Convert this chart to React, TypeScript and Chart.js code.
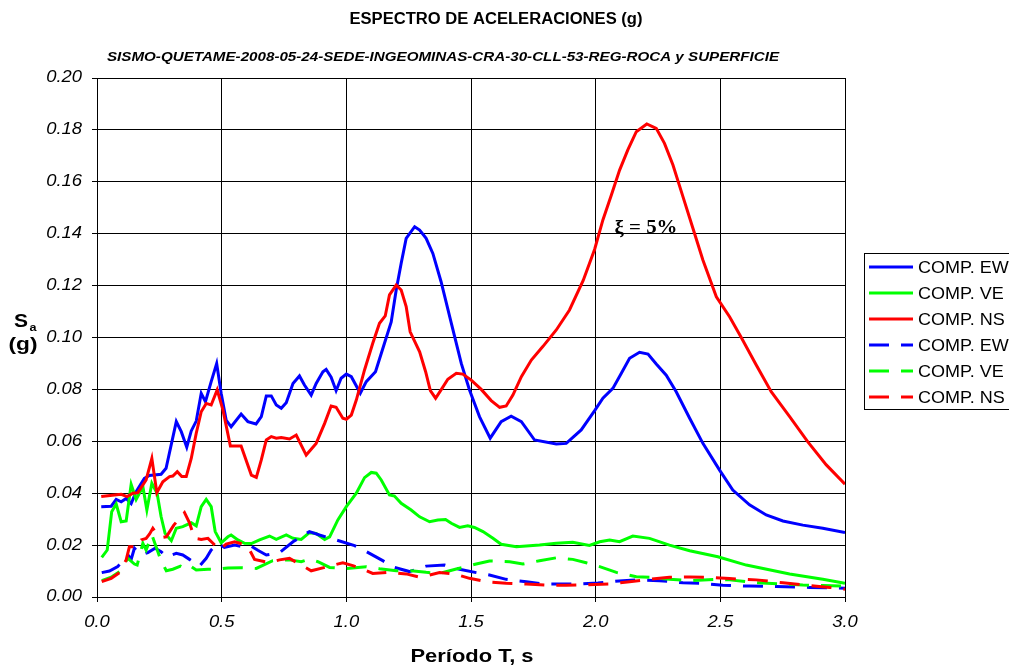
import React, { useEffect, useRef } from "react";
import { Chart, registerables } from "chart.js";

Chart.register(...registerables);

// ---------- DATA ----------
const ewSolidT = [0.017, 0.057, 0.077, 0.097, 0.117, 0.137, 0.157, 0.19, 0.21, 0.257, 0.277, 0.318, 0.338, 0.36, 0.378, 0.398, 0.418, 0.435, 0.458, 0.48, 0.498, 0.518, 0.538, 0.578, 0.605, 0.638, 0.659, 0.679, 0.699, 0.719, 0.739, 0.759, 0.786, 0.812, 0.832, 0.859, 0.879, 0.906, 0.919, 0.939, 0.959, 0.979, 1.0, 1.02, 1.056, 1.08, 1.117, 1.153, 1.18, 1.2, 1.22, 1.24, 1.274, 1.294, 1.32, 1.347, 1.38, 1.421, 1.461, 1.494, 1.534, 1.577, 1.621, 1.661, 1.702, 1.755, 1.842, 1.882, 1.942, 1.996, 2.029, 2.069, 2.103, 2.136, 2.176, 2.21, 2.243, 2.283, 2.323, 2.377, 2.43, 2.497, 2.55, 2.617, 2.684, 2.751, 2.831, 2.911, 3.0];
const ewSolidSa = [0.0348, 0.035, 0.0376, 0.0367, 0.038, 0.036, 0.0406, 0.0457, 0.0468, 0.0473, 0.0496, 0.0676, 0.0637, 0.0577, 0.064, 0.0678, 0.0785, 0.0753, 0.083, 0.09, 0.0785, 0.0682, 0.0656, 0.0705, 0.0676, 0.0667, 0.0695, 0.0775, 0.0775, 0.074, 0.0727, 0.0749, 0.0823, 0.0852, 0.0817, 0.0778, 0.0823, 0.0868, 0.0877, 0.0847, 0.0795, 0.0843, 0.0859, 0.0849, 0.0785, 0.083, 0.0868, 0.0978, 0.106, 0.1183, 0.1286, 0.1382, 0.1427, 0.1414, 0.1382, 0.1324, 0.1215, 0.1055, 0.09, 0.0798, 0.0695, 0.0612, 0.0676, 0.0697, 0.0676, 0.0605, 0.059, 0.0592, 0.0644, 0.0718, 0.0766, 0.0804, 0.0862, 0.092, 0.0943, 0.0936, 0.0898, 0.0855, 0.0791, 0.0689, 0.0592, 0.0489, 0.0412, 0.0355, 0.0316, 0.0293, 0.0277, 0.0265, 0.0248];

const veSolidT = [0.019, 0.041, 0.059, 0.077, 0.097, 0.117, 0.137, 0.157, 0.184, 0.2, 0.22, 0.241, 0.257, 0.273, 0.298, 0.318, 0.344, 0.378, 0.398, 0.418, 0.438, 0.458, 0.474, 0.498, 0.525, 0.538, 0.565, 0.592, 0.619, 0.652, 0.692, 0.719, 0.759, 0.786, 0.819, 0.852, 0.879, 0.913, 0.933, 0.966, 1.0, 1.04, 1.073, 1.1, 1.12, 1.14, 1.173, 1.193, 1.22, 1.26, 1.294, 1.334, 1.367, 1.398, 1.421, 1.454, 1.487, 1.514, 1.548, 1.588, 1.621, 1.682, 1.775, 1.842, 1.908, 1.975, 2.016, 2.056, 2.096, 2.149, 2.216, 2.296, 2.377, 2.49, 2.604, 2.778, 2.911, 3.0];
const veSolidSa = [0.0153, 0.0181, 0.0329, 0.0358, 0.029, 0.0293, 0.0434, 0.0376, 0.0425, 0.0335, 0.0438, 0.04, 0.031, 0.0245, 0.0217, 0.0265, 0.0271, 0.0286, 0.0274, 0.0348, 0.0376, 0.0348, 0.0252, 0.0209, 0.0232, 0.0239, 0.022, 0.0207, 0.0206, 0.022, 0.0235, 0.0222, 0.0239, 0.0226, 0.0222, 0.0248, 0.0245, 0.0222, 0.0232, 0.0297, 0.0348, 0.04, 0.046, 0.048, 0.0477, 0.0451, 0.0393, 0.0389, 0.0361, 0.0335, 0.0309, 0.029, 0.0297, 0.0299, 0.0284, 0.0268, 0.0274, 0.0268, 0.0252, 0.0226, 0.0203, 0.0194, 0.02, 0.0207, 0.0211, 0.0199, 0.0213, 0.022, 0.0213, 0.0235, 0.0226, 0.02, 0.0178, 0.0155, 0.0123, 0.0089, 0.0068, 0.0053];

const nsSolidT = [0.017, 0.07, 0.097, 0.121, 0.144, 0.164, 0.197, 0.22, 0.24, 0.264, 0.291, 0.304, 0.322, 0.34, 0.358, 0.378, 0.398, 0.418, 0.438, 0.458, 0.482, 0.505, 0.535, 0.578, 0.619, 0.639, 0.659, 0.679, 0.699, 0.719, 0.739, 0.772, 0.799, 0.839, 0.879, 0.913, 0.939, 0.959, 0.986, 1.0, 1.02, 1.04, 1.073, 1.106, 1.133, 1.156, 1.173, 1.2, 1.22, 1.24, 1.256, 1.294, 1.318, 1.337, 1.358, 1.38, 1.407, 1.441, 1.467, 1.501, 1.541, 1.581, 1.615, 1.641, 1.668, 1.702, 1.742, 1.788, 1.842, 1.895, 1.95, 1.996, 2.029, 2.063, 2.096, 2.129, 2.163, 2.205, 2.243, 2.276, 2.31, 2.35, 2.39, 2.43, 2.484, 2.537, 2.584, 2.644, 2.704, 2.778, 2.851, 2.925, 3.0];
const nsSolidSa = [0.0387, 0.0393, 0.0396, 0.0387, 0.04, 0.0402, 0.0451, 0.0534, 0.0402, 0.0444, 0.0464, 0.0466, 0.0483, 0.0464, 0.0464, 0.0534, 0.0631, 0.0714, 0.0746, 0.074, 0.0798, 0.0721, 0.0582, 0.0582, 0.047, 0.0461, 0.0528, 0.0605, 0.0618, 0.0612, 0.0615, 0.0609, 0.0624, 0.0547, 0.0592, 0.0669, 0.0736, 0.0731, 0.0689, 0.0685, 0.0701, 0.0759, 0.0875, 0.0978, 0.1055, 0.1083, 0.1164, 0.1202, 0.1183, 0.1119, 0.1022, 0.0945, 0.0868, 0.0795, 0.0766, 0.0798, 0.0839, 0.0862, 0.0859, 0.0836, 0.08, 0.0757, 0.0731, 0.0736, 0.0778, 0.0849, 0.0913, 0.0965, 0.1029, 0.1106, 0.122, 0.134, 0.1453, 0.1549, 0.1645, 0.1723, 0.1793, 0.1823, 0.1806, 0.1748, 0.1665, 0.1543, 0.1421, 0.1299, 0.1157, 0.108, 0.1, 0.0894, 0.0791, 0.0695, 0.0598, 0.0509, 0.0435];

const ewDashT = [0.019, 0.05, 0.083, 0.124, 0.137, 0.15, 0.177, 0.204, 0.233, 0.257, 0.278, 0.318, 0.344, 0.371, 0.411, 0.438, 0.458, 0.485, 0.511, 0.552, 0.585, 0.612, 0.645, 0.679, 0.732, 0.786, 0.852, 0.892, 0.959, 1.033, 1.08, 1.146, 1.193, 1.253, 1.32, 1.394, 1.454, 1.521, 1.574, 1.641, 1.722, 1.788, 1.855, 1.935, 2.009, 2.109, 2.176, 2.256, 2.35, 2.417, 2.51, 2.617, 2.724, 2.858, 3.0];
const ewDashSa = [0.0094, 0.01, 0.0117, 0.0162, 0.0145, 0.0188, 0.0162, 0.0171, 0.0188, 0.0175, 0.0155, 0.0168, 0.0162, 0.0145, 0.0119, 0.0149, 0.0181, 0.0207, 0.0191, 0.02, 0.0194, 0.02, 0.018, 0.0162, 0.0171, 0.0213, 0.0252, 0.0239, 0.022, 0.0198, 0.0175, 0.014, 0.0114, 0.0098, 0.0119, 0.0123, 0.0107, 0.0094, 0.0085, 0.0068, 0.0059, 0.005, 0.005, 0.005, 0.0054, 0.0063, 0.0066, 0.0063, 0.0055, 0.0053, 0.0045, 0.0042, 0.004, 0.0037, 0.0034];

const veDashT = [0.019, 0.057, 0.09, 0.124, 0.15, 0.161, 0.184, 0.197, 0.22, 0.237, 0.255, 0.278, 0.304, 0.335, 0.358, 0.378, 0.398, 0.445, 0.485, 0.525, 0.578, 0.639, 0.705, 0.772, 0.819, 0.852, 0.886, 0.933, 1.0, 1.08, 1.133, 1.2, 1.26, 1.32, 1.374, 1.441, 1.521, 1.574, 1.655, 1.708, 1.775, 1.842, 1.908, 1.962, 2.016, 2.083, 2.163, 2.216, 2.296, 2.377, 2.484, 2.537, 2.644, 2.751, 2.831, 2.911, 3.0];
const veDashSa = [0.0063, 0.0076, 0.0098, 0.0149, 0.0127, 0.0123, 0.0207, 0.0181, 0.0239, 0.0194, 0.0145, 0.0101, 0.0107, 0.0119, 0.0107, 0.0117, 0.0104, 0.0107, 0.0107, 0.0112, 0.0113, 0.011, 0.014, 0.0143, 0.0136, 0.0146, 0.0136, 0.0114, 0.011, 0.0117, 0.0109, 0.0101, 0.0101, 0.0095, 0.0091, 0.0108, 0.0127, 0.0139, 0.0136, 0.0127, 0.014, 0.0151, 0.0145, 0.0132, 0.0117, 0.0095, 0.0078, 0.0076, 0.0068, 0.0063, 0.0068, 0.0066, 0.0055, 0.005, 0.0046, 0.0044, 0.0042];

const nsDashT = [0.019, 0.057, 0.09, 0.117, 0.13, 0.164, 0.177, 0.197, 0.211, 0.224, 0.244, 0.264, 0.278, 0.308, 0.331, 0.351, 0.371, 0.391, 0.418, 0.445, 0.465, 0.491, 0.518, 0.552, 0.585, 0.605, 0.632, 0.692, 0.732, 0.772, 0.812, 0.859, 0.926, 0.986, 1.026, 1.066, 1.106, 1.173, 1.24, 1.287, 1.334, 1.374, 1.434, 1.494, 1.561, 1.641, 1.722, 1.802, 1.882, 1.962, 2.056, 2.136, 2.216, 2.296, 2.377, 2.457, 2.537, 2.644, 2.751, 2.845, 2.938, 3.0];
const nsDashSa = [0.0059, 0.0072, 0.0094, 0.0143, 0.0194, 0.0194, 0.022, 0.0226, 0.0243, 0.0265, 0.0239, 0.023, 0.0232, 0.0277, 0.0303, 0.0325, 0.0286, 0.0226, 0.0222, 0.0226, 0.0207, 0.0181, 0.0204, 0.0213, 0.0204, 0.0194, 0.0145, 0.0132, 0.0143, 0.0149, 0.0127, 0.0101, 0.0117, 0.0132, 0.0121, 0.0107, 0.0091, 0.0095, 0.0089, 0.0078, 0.0085, 0.0094, 0.0089, 0.0072, 0.0059, 0.0053, 0.005, 0.0046, 0.0045, 0.0047, 0.005, 0.0059, 0.0068, 0.0076, 0.0077, 0.0076, 0.0071, 0.0066, 0.0055, 0.0045, 0.0037, 0.003];

const seriesLabels = ["COMP. EW", "COMP. VE", "COMP. NS", "COMP. EW", "COMP. VE", "COMP. NS"];
const seriesColors = ["#0000FF", "#00FF00", "#FF0000", "#0000FF", "#00FF00", "#FF0000"];

const titleText = "ESPECTRO DE ACELERACIONES (g)";
const subtitleText = "SISMO-QUETAME-2008-05-24-SEDE-INGEOMINAS-CRA-30-CLL-53-REG-ROCA y SUPERFICIE";
const xAxisTitle = "Período T, s";
const dampingNote = "ξ = 5%";

const X_MIN = 0, X_MAX = 3, X_STEP = 0.5;
const Y_MIN = 0, Y_MAX = 0.2, Y_STEP = 0.02;

const SANS = "'Liberation Sans', Arial, sans-serif";
const SERIF = "'Liberation Serif', 'Times New Roman', serif";
const DASH = [20, 12];

function toPoints(t: number[], v: number[]) {
  return t.map((x, i) => ({ x, y: v[i] }));
}

function drawFitted(ctx: CanvasRenderingContext2D, text: string, font: string, x: number, y: number, width: number | null, align: CanvasTextAlign = "center", sx0 = 1) {
  ctx.save();
  ctx.font = font;
  const m = ctx.measureText(text).width;
  const sx = width ? width / m : sx0;
  ctx.translate(x, y);
  ctx.scale(sx, 1);
  ctx.textAlign = align;
  ctx.textBaseline = "middle";
  ctx.fillStyle = "#000";
  ctx.fillText(text, 0, 0);
  ctx.restore();
}

const textPlugin = {
  id: "textPlugin",
  afterDraw(chart: any) {
    const ctx: CanvasRenderingContext2D = chart.ctx;
    // tick labels, positioned by the chart's own scales
    const xs = chart.scales.x;
    const ys = chart.scales.y;
    xs.ticks.forEach((t: any) => {
      const px = xs.getPixelForValue(t.value);
      drawFitted(ctx, Number(t.value).toFixed(1), `italic 16px ${SANS}`, px, 623, null, "center", 1.15);
    });
    ys.ticks.forEach((t: any) => {
      const py = ys.getPixelForValue(t.value);
      drawFitted(ctx, Number(t.value).toFixed(2), `italic 16px ${SANS}`, 82, py, null, "right", 1.15);
    });

    drawFitted(ctx, titleText, `bold 16px ${SANS}`, 496, 20, 293);
    drawFitted(ctx, subtitleText, `italic bold 13px ${SANS}`, 443, 57, 672);
    drawFitted(ctx, xAxisTitle, `bold 18px ${SANS}`, 472, 657, 123);
    // y axis title S_a (g)
    drawFitted(ctx, "S", `bold 18px ${SANS}`, 21, 322, 14);
    drawFitted(ctx, "a", `bold 11px ${SANS}`, 33, 328, 7);
    drawFitted(ctx, "(g)", `bold 18px ${SANS}`, 23, 345, 29);
    // damping annotation
    drawFitted(ctx, dampingNote, `bold 18px ${SERIF}`, 646, 228, 63);

    // legend
    const bx = 864.5, by = 253.5, bh = 156;
    ctx.save();
    ctx.fillStyle = "#fff";
    ctx.fillRect(bx, by, 300, bh);
    ctx.strokeStyle = "#000";
    ctx.lineWidth = 1;
    ctx.strokeRect(bx, by, 300, bh);
    chart.data.datasets.forEach((ds: any, i: number) => {
      const y = 267 + i * 26;
      ctx.save();
      ctx.strokeStyle = ds.borderColor;
      ctx.lineWidth = 3;
      ctx.setLineDash(ds.borderDash || []);
      ctx.beginPath();
      ctx.moveTo(869, y);
      ctx.lineTo(913, y);
      ctx.stroke();
      ctx.restore();
      drawFitted(ctx, ds.label, `17px ${SANS}`, 918, y + 1, null, "left", 1.06);
    });
    ctx.restore();
  },
};

export default function App() {
  const ref = useRef<HTMLCanvasElement | null>(null);
  useEffect(() => {
    if (!ref.current) return;
    const series = [
      toPoints(ewSolidT, ewSolidSa),
      toPoints(veSolidT, veSolidSa),
      toPoints(nsSolidT, nsSolidSa),
      toPoints(ewDashT, ewDashSa),
      toPoints(veDashT, veDashSa),
      toPoints(nsDashT, nsDashSa),
    ];
    const chart = new Chart(ref.current, {
      type: "line",
      data: {
        datasets: series.map((pts, i) => ({
          label: seriesLabels[i],
          data: pts,
          borderColor: seriesColors[i],
          backgroundColor: seriesColors[i],
          borderWidth: 3,
          borderDash: i >= 3 ? DASH : [],
          pointRadius: 0,
          tension: 0,
          fill: false,
          order: 5 - i,
        })),
      },
      options: {
        animation: false,
        responsive: false,
        devicePixelRatio: 1,
        layout: { padding: { left: 0, top: 78, right: 164, bottom: 0 } },
        plugins: { legend: { display: false }, title: { display: false }, tooltip: { enabled: false } },
        scales: {
          x: {
            type: "linear",
            min: X_MIN,
            max: X_MAX,
            afterFit: (s: any) => { s.height = 69; },
            ticks: {
              stepSize: X_STEP,
              callback: (v: any) => Number(v).toFixed(1),
              font: { family: SANS, size: 16, style: "italic" },
              color: "rgba(0,0,0,0)",
              padding: 12,
              maxRotation: 0,
            },
            grid: { color: "#000", lineWidth: 1, tickLength: 5, drawTicks: true },
            border: { display: true, color: "#000", width: 1 },
          },
          y: {
            type: "linear",
            min: Y_MIN,
            max: Y_MAX,
            afterFit: (s: any) => { s.width = 97; },
            ticks: {
              stepSize: Y_STEP,
              callback: (v: any) => Number(v).toFixed(2),
              font: { family: SANS, size: 16, style: "italic" },
              color: "rgba(0,0,0,0)",
              padding: 10,
            },
            grid: { color: "#000", lineWidth: 1, tickLength: 5, drawTicks: true },
            border: { display: true, color: "#000", width: 1 },
          },
        },
      },
      plugins: [textPlugin],
    });
    return () => chart.destroy();
  }, []);
  return (
    <div style={{ position: "fixed", left: 0, top: 0, width: 1009, height: 666, background: "#fff", overflow: "hidden" }}>
      <canvas ref={ref} width={1009} height={666} style={{ width: 1009, height: 666, display: "block" }} />
    </div>
  );
}
